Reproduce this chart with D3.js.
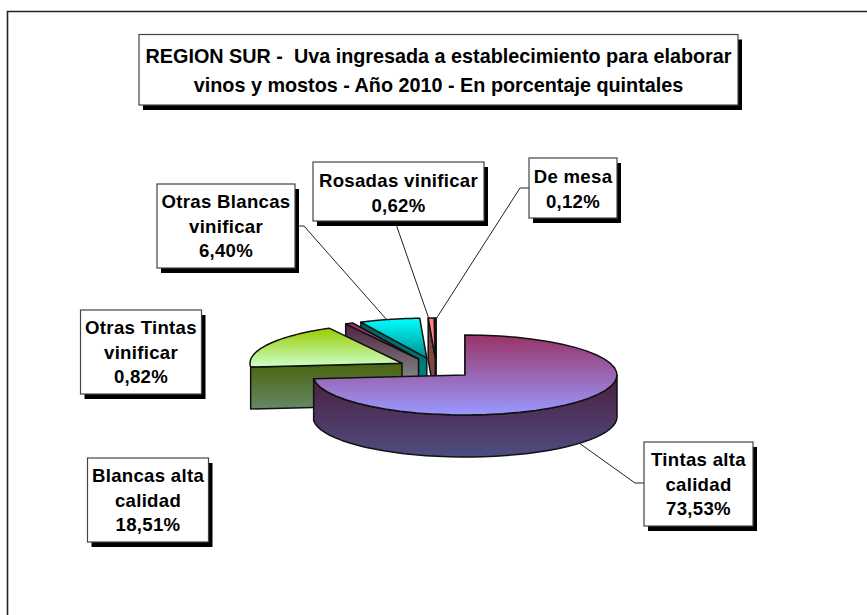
<!DOCTYPE html>
<html><head><meta charset="utf-8">
<script src="https://cdnjs.cloudflare.com/ajax/libs/d3/7.8.5/d3.min.js"></script>
<style>html,body{margin:0;background:#fff}svg{display:block}</style></head>
<body><svg id="c" width="867" height="615"></svg>
<script>
const categories = ["Tintas alta calidad","Blancas alta calidad","Otras Tintas vinificar","Otras Blancas vinificar","Rosadas vinificar","De mesa"];
const values = [73.53,18.51,0.82,6.40,0.62,0.12];
const titleLines = ["REGION SUR -  Uva ingresada a establecimiento para elaborar","vinos y mostos - Año 2010 - En porcentaje quintales"];
const labelLines = [["Tintas alta","calidad","73,53%"],["Blancas alta","calidad","18,51%"],["Otras Tintas","vinificar","0,82%"],["Otras Blancas","vinificar","6,40%"],["Rosadas vinificar","0,62%"],["De mesa","0,12%"]];
const labelBoxes = [[644,442,109,84],[87.5,458,121,84],[80.5,310,121,84],[157,184,138,84],[313,162,171,59],[529,158,88,60]];
const leaders = [[[644,483],[635,483],[579,443]],null,null,[[295,226],[304,226],[387,320]],[[397,221],[397,227],[429,319]],[[529,188],[520,188],[436,319]]];
const topColors = [["#993366","#9999ff"],["#99cc00","#ccffcc"],["#993366","#a0607a"],["#00ffff","#008f8f"],["#ff8080","#ff8080"],["#000000","#000000"]];
const wallColors = [["#4d1f40","#4d4d80"],["#4c6614","#668866"],["#4d2040","#808080"],["#005f5f","#008080"],["#804040","#804848"],["#000000","#000000"]];

const svg = d3.select("#c"), defs = svg.append("defs");
const cx = 436.3, cy = 368.1, rx = 152, ry = 40, depth = 42, explode = 0.2555;
const pie = d3.pie().sort(null)(values);
const sx = d3.scaleLinear().domain([-1,1]).range([-rx,rx]);
const pt = (a,o) => [o[0]+sx(Math.sin(a)), o[1]-ry*Math.cos(a)];
const arcPts = (a0,a1) => d3.range(0,41).map(i=>a0+(a1-a0)*i/40);
const line = d3.line();

// frame: only the top and left rules are visible, running off the page
svg.append("path").attr("d","M7.5,615V11.5H867").attr("fill","none").attr("stroke","#222").attr("stroke-width",1.6);

function grad(id,cols,y0,y1){
  const g = defs.append("linearGradient").attr("id",id).attr("gradientUnits","userSpaceOnUse").attr("x1",0).attr("x2",0).attr("y1",y0).attr("y2",y1);
  g.append("stop").attr("offset",0).attr("stop-color",cols[0]);
  g.append("stop").attr("offset",1).attr("stop-color",cols[1]);
}
const slices = pie.map((d,i)=>{
  const mid=(d.startAngle+d.endAngle)/2;
  const o=[cx+sx(explode*Math.sin(mid)), cy-ry*explode*Math.cos(mid)];
  return {d,i,o};
});
const S = {stroke:"#111","stroke-width":1.5,"stroke-linejoin":"round"};
const styled = sel => { Object.entries(S).forEach(([k,v])=>sel.attr(k,v)); return sel; };
const mainBody = slices[0].o[1];
// painter order: small back slices first, then the large ones
[5,4,3,2,1,0].forEach(i=>{
  const {d,o}=slices[i];
  const a0=d.startAngle,a1=d.endAngle;
  const g=svg.append("g").attr("class","slice");
  const topPts=[o,...arcPts(a0,a1).map(a=>pt(a,o))];
  const ys=topPts.map(p=>p[1]);
  const y0=d3.min(ys), y1=i===0?o[1]+ry:d3.max(ys);
  grad("t"+i,topColors[i],y0,y1);
  if(i===0) grad("w0",wallColors[0],o[1]+3,o[1]+ry+depth);
  else if(i===1) grad("w1",wallColors[1],y1,y1+depth);
  else grad("w"+i,wallColors[i],y0,mainBody+1);
  // start-cut wall, facing the viewer
  const p=pt(a0,o);
  const wall=[o,p,[p[0],p[1]+depth],[o[0],o[1]+depth]];
  styled(g.append("path").attr("d",line(wall)+"Z").attr("fill",`url(#w${i})`));
  // outer rim of the big slice, front half of the ellipse
  if(i===0){
    const front=arcPts(Math.PI/2,a1).map(a=>pt(a,o));
    const back=front.slice().reverse().map(q=>[q[0],q[1]+depth]);
    styled(g.append("path").attr("d",line([...front,...back])+"Z").attr("fill",`url(#w${i})`));
  }
  styled(g.append("path").attr("d",line(topPts)+"Z").attr("fill",`url(#t${i})`));
});

// leaders
leaders.forEach(l=>{ if(l) svg.append("path").attr("d",line(l)).attr("fill","none").attr("stroke","#222").attr("stroke-width",1); });

function box(b,lines,base,step,fs,ls){
  svg.append("rect").attr("x",b[0]+4).attr("y",b[1]+5).attr("width",b[2]).attr("height",b[3]).attr("fill","#000");
  svg.append("rect").attr("x",b[0]).attr("y",b[1]).attr("width",b[2]).attr("height",b[3]).attr("fill","#fff").attr("stroke","#444").attr("stroke-width",1.2);
  lines.forEach((t,j)=>svg.append("text").attr("x",b[0]+b[2]/2).attr("y",base+j*step).attr("text-anchor","middle")
    .attr("font-family","'Liberation Sans',Arial,sans-serif").attr("font-weight","bold").attr("font-size",fs).attr("letter-spacing",ls).style("white-space","pre").attr("fill","#000").text(t));
}
box([139,34.5,599,70.5],titleLines,63,28.5,19.8,0);
labelLines.forEach((l,i)=>{
  const b=labelBoxes[i];
  box(b,l,b[1]+(l.length===3?24:25),24.5,18.6,0.3);
});
</script></body></html>
